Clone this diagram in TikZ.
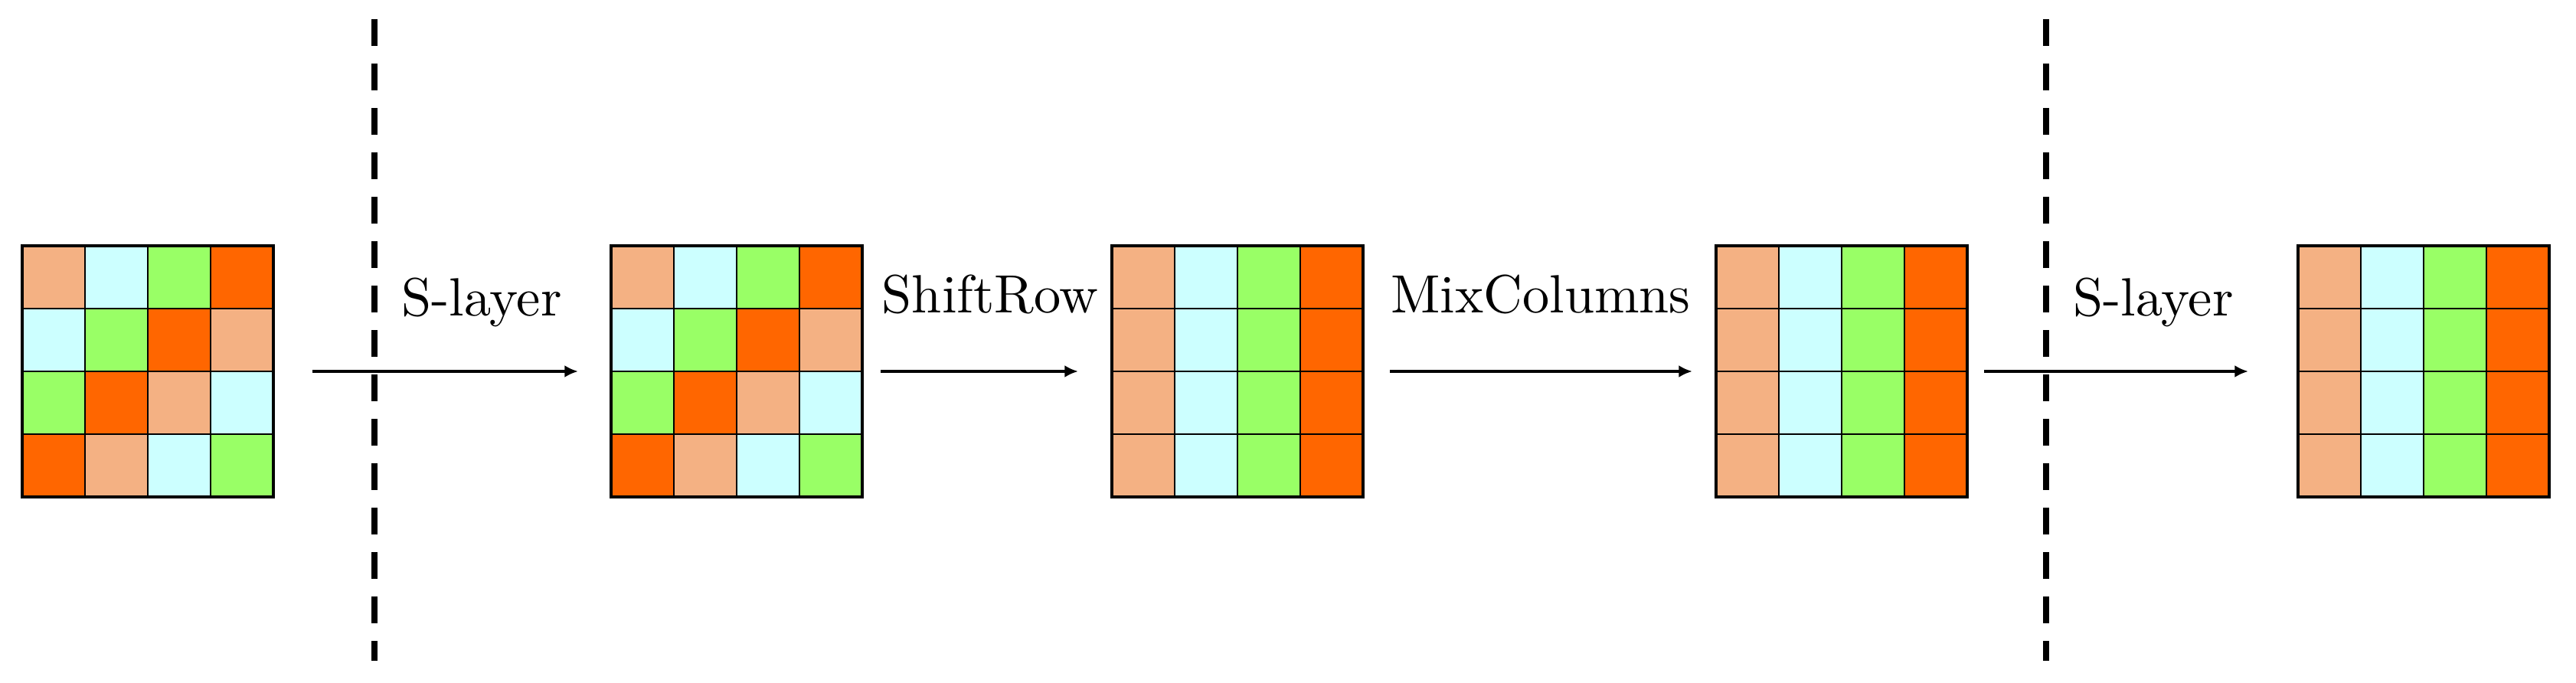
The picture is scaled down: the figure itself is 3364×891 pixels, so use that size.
\documentclass[tikz,border=0pt]{standalone}
\usetikzlibrary{arrows.meta}
\definecolor{cpeach}{RGB}{244,177,131}
\definecolor{ccyan}{RGB}{204,255,255}
\definecolor{cgreen}{RGB}{153,255,102}
\definecolor{corange}{RGB}{255,102,0}
\tikzset{
  cellbox/.style={draw=black, line width=0.8pt, minimum size=0.82cm, inner sep=0pt, outer sep=0pt, anchor=north west},
  gridframe/.style={draw=black, line width=1pt},
  flow/.style={line width=1pt, -{Latex[length=5pt,width=4.5pt]}},
  sepline/.style={line width=2.5pt, dash pattern=on 10pt off 6.5pt},
  lbl/.style={anchor=base, inner sep=0pt, font=\normalsize, scale=2}
}
\newcommand\stategrid[3]{%
  \foreach \cc [count=\i from 0] in {#3} {
    \pgfmathtruncatemacro\rr{\i/4}
    \pgfmathtruncatemacro\kk{\i-4*\rr}
    \node[cellbox, fill=\cc] (#1-\i) at ({#2+82*\kk},{321+82*\rr}) {};
  }
  \draw[gridframe] (#2,321) rectangle ({#2+328},649);
}
\begin{document}
\begin{tikzpicture}[x=0.01cm, y=-0.01cm]
\useasboundingbox (0,0) rectangle (3364,891);
% grids
\stategrid{ga}{29}{cpeach,ccyan,cgreen,corange, ccyan,cgreen,corange,cpeach, cgreen,corange,cpeach,ccyan, corange,cpeach,ccyan,cgreen}
\stategrid{gb}{798}{cpeach,ccyan,cgreen,corange, ccyan,cgreen,corange,cpeach, cgreen,corange,cpeach,ccyan, corange,cpeach,ccyan,cgreen}
\stategrid{gc}{1452}{cpeach,ccyan,cgreen,corange, cpeach,ccyan,cgreen,corange, cpeach,ccyan,cgreen,corange, cpeach,ccyan,cgreen,corange}
\stategrid{gd}{2241}{cpeach,ccyan,cgreen,corange, cpeach,ccyan,cgreen,corange, cpeach,ccyan,cgreen,corange, cpeach,ccyan,cgreen,corange}
\stategrid{ge}{3001}{cpeach,ccyan,cgreen,corange, cpeach,ccyan,cgreen,corange, cpeach,ccyan,cgreen,corange, cpeach,ccyan,cgreen,corange}
% dashed separators
\coordinate (d1t) at (489,25);
\coordinate (d1b) at (489,863);
\coordinate (d2t) at (2672,25);
\coordinate (d2b) at (2672,863);
\draw[sepline] (d1t) -- (d1b);
\draw[sepline] (d2t) -- (d2b);
% arrows
\coordinate (a1s) at (408,485);
\coordinate (a1e) at (755,485);
\coordinate (a2s) at (1150,485);
\coordinate (a2e) at (1408,485);
\coordinate (a3s) at (1815,485);
\coordinate (a3e) at (2210,485);
\coordinate (a4s) at (2591,485);
\coordinate (a4e) at (2936,485);
\draw[flow] (a1s) -- (a1e);
\draw[flow] (a2s) -- (a2e);
\draw[flow] (a3s) -- (a3e);
\draw[flow] (a4s) -- (a4e);
% labels
\node[lbl] (l1) at (629,412) {S-layer};
\node[lbl] (l2) at (1293,408) {ShiftRow};
\node[lbl] (l3) at (2012,408) {MixColumns};
\node[lbl] (l4) at (2812,412) {S-layer};
\end{tikzpicture}
\end{document}
